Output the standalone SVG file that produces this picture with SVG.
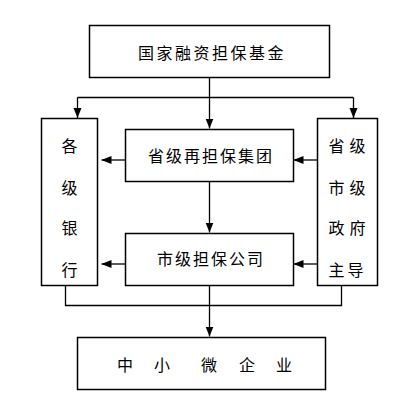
<svg xmlns="http://www.w3.org/2000/svg" width="414" height="411" viewBox="0 0 414 411">
<defs>
<marker id="ah" markerUnits="userSpaceOnUse" markerWidth="10" markerHeight="10" viewBox="0 0 10 10" refX="10" refY="5" orient="auto">
<path d="M0,1 L10,5 L0,9 Z" fill="#000"/>
</marker>
</defs>
<style>
.box{fill:#fff;stroke:#000;stroke-width:1.5}
.t{font-family:"Noto Sans CJK SC","Noto Sans",sans-serif;font-size:16px;fill:#000;text-anchor:middle;dominant-baseline:central}
.c{fill:none;stroke:#000;stroke-width:1.3}
</style>
<rect width="414" height="411" fill="#fff"/>
<g id="connectors">
<path class="c" d="M209.5,77 V97.5 M77.5,97.5 H353.5"/>
<path class="c" d="M77.5,97.5 V118" marker-end="url(#ah)"/>
<path class="c" d="M353.5,97.5 V118" marker-end="url(#ah)"/>
<path class="c" d="M209.5,97.5 V128.5" marker-end="url(#ah)"/>
<path class="c" d="M209.5,181 V232.5" marker-end="url(#ah)"/>
<path class="c" d="M125,160 H101.5" marker-end="url(#ah)"/>
<path class="c" d="M125,264 H101.5" marker-end="url(#ah)"/>
<path class="c" d="M317,160 H293.5" marker-end="url(#ah)"/>
<path class="c" d="M317,264 H293.5" marker-end="url(#ah)"/>
<path class="c" d="M65.5,285 V305.5 H341.5 V285"/>
<path class="c" d="M209.5,285 V336.5" marker-end="url(#ah)"/>
</g>
<g id="fund">
<rect class="box" x="89.5" y="25.5" width="240" height="52"/>
<text class="t" x="212" y="51.5" letter-spacing="2.5">国家融资担保基金</text>
</g>
<g id="banks">
<rect class="box" x="41.5" y="118.5" width="56" height="167"/>
<text class="t" x="69.5" y="145">各</text>
<text class="t" x="69.5" y="187">级</text>
<text class="t" x="69.5" y="227">银</text>
<text class="t" x="69.5" y="269">行</text>
</g>
<g id="gov">
<rect class="box" x="317.5" y="118.5" width="60" height="167"/>
<text class="t" x="349.5" y="145" letter-spacing="5">省级</text>
<text class="t" x="349.5" y="187" letter-spacing="5">市级</text>
<text class="t" x="349.5" y="227" letter-spacing="5">政府</text>
<text class="t" x="347.5" y="269" letter-spacing="3">主导</text>
</g>
<g id="provincial">
<rect class="box" x="125.5" y="129.5" width="168" height="52"/>
<text class="t" x="211" y="155" letter-spacing="2">省级再担保集团</text>
</g>
<g id="city">
<rect class="box" x="125.5" y="233.5" width="168" height="52"/>
<text class="t" x="211" y="258" letter-spacing="2">市级担保公司</text>
</g>
<g id="sme">
<rect class="box" x="77.5" y="337.5" width="248" height="52"/>
<text class="t" x="125" y="364">中</text>
<text class="t" x="162" y="364">小</text>
<text class="t" x="209" y="364">微</text>
<text class="t" x="247" y="364">企</text>
<text class="t" x="284" y="364">业</text>
</g>
</svg>
